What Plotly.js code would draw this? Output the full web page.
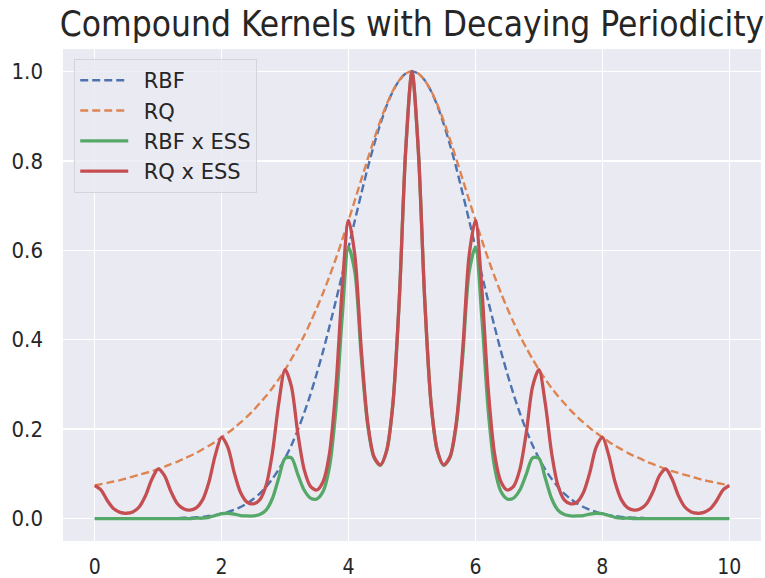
<!DOCTYPE html>
<html>
<head>
<meta charset="utf-8">
<script src="https://cdn.plot.ly/plotly-3.0.1.min.js"></script>
<style>html,body{margin:0;padding:0;background:#fff;}#chart{width:765px;height:578px;}</style>
</head>
<body>
<div id="chart"></div>
<script>
// x positions (0 to 10)
const xVals = [0,0.1,0.2,0.3,0.4,0.5,0.6,0.7,0.8,0.9,1,1.1,1.2,1.3,1.4,1.5,1.6,1.7,1.8,1.9,2,2.1,2.2,2.3,2.4,2.5,2.6,2.7,2.8,2.9,3,3.1,3.2,3.3,3.4,3.5,3.6,3.7,3.8,3.9,4,4.1,4.2,4.3,4.4,4.5,4.6,4.7,4.8,4.9,5,5.1,5.2,5.3,5.4,5.5,5.6,5.7,5.8,5.9,6,6.1,6.2,6.3,6.4,6.5,6.6,6.7,6.8,6.9,7,7.1,7.2,7.3,7.4,7.5,7.6,7.7,7.8,7.9,8,8.1,8.2,8.3,8.4,8.5,8.6,8.7,8.8,8.9,9,9.1,9.2,9.3,9.4,9.5,9.6,9.7,9.8,9.9,10];

const rbf = [0,0,0,0,0,0,0,0,0,0,0,0.001,0.001,0.001,0.002,0.002,0.003,0.004,0.006,0.008,0.011,0.015,0.020,0.026,0.034,0.044,0.056,0.071,0.089,0.110,0.135,0.164,0.198,0.236,0.278,0.325,0.375,0.430,0.487,0.546,0.607,0.667,0.726,0.783,0.835,0.882,0.923,0.956,0.980,0.995,1.000,
0.995,0.980,0.956,0.923,0.882,0.835,0.783,0.726,0.667,0.607,0.546,0.487,0.430,0.375,0.325,0.278,0.236,0.198,0.164,0.135,0.110,0.089,0.071,0.056,0.044,0.034,0.026,0.020,0.015,0.011,0.008,0.006,0.004,0.003,0.002,0.002,0.001,0.001,0.001,0,0,0,0,0,0,0,0,0,0,0];

const rq = [0.074,0.077,0.080,0.083,0.086,0.090,0.094,0.098,0.102,0.106,0.111,0.116,0.122,0.127,0.134,0.140,0.147,0.155,0.163,0.172,0.182,0.192,0.203,0.215,0.228,0.242,0.258,0.274,0.292,0.312,0.333,0.357,0.382,0.409,0.439,0.471,0.505,0.542,0.581,0.623,0.667,0.712,0.758,0.803,0.847,0.889,0.926,0.957,0.980,0.995,1.000,
0.995,0.980,0.957,0.926,0.889,0.847,0.803,0.758,0.712,0.667,0.623,0.581,0.542,0.505,0.471,0.439,0.409,0.382,0.357,0.333,0.312,0.292,0.274,0.258,0.242,0.228,0.215,0.203,0.192,0.182,0.172,0.163,0.155,0.147,0.140,0.134,0.127,0.122,0.116,0.111,0.106,0.102,0.098,0.094,0.090,0.086,0.083,0.080,0.077,0.074];

const rbfEss = [0,0,0,0,0,0,0,0,0,0,0,0,0,0,0,0,0.001,0.001,0.003,0.007,0.011,0.012,0.010,0.007,0.006,0.006,0.009,0.019,0.045,0.091,0.135,0.136,0.099,0.064,0.046,0.044,0.061,0.116,0.244,0.451,0.607,0.551,0.364,0.211,0.137,0.119,0.151,0.258,0.491,0.822,1.000,
0.822,0.491,0.258,0.151,0.119,0.137,0.211,0.364,0.551,0.607,0.451,0.244,0.116,0.061,0.044,0.046,0.064,0.099,0.136,0.135,0.091,0.045,0.019,0.009,0.006,0.006,0.007,0.010,0.012,0.011,0.007,0.003,0.001,0.001,0,0,0,0,0,0,0,0,0,0,0,0,0,0,0,0];

const rqEss = [0.074,0.064,0.040,0.022,0.014,0.012,0.015,0.026,0.051,0.088,0.111,0.096,0.061,0.034,0.022,0.019,0.024,0.042,0.082,0.142,0.182,0.159,0.102,0.058,0.037,0.033,0.042,0.074,0.147,0.258,0.333,0.295,0.191,0.110,0.072,0.064,0.083,0.146,0.291,0.515,0.667,0.588,0.380,0.217,0.139,0.120,0.152,0.258,0.491,0.822,1.000,
0.822,0.491,0.258,0.152,0.120,0.139,0.217,0.380,0.588,0.667,0.515,0.291,0.146,0.083,0.064,0.072,0.110,0.191,0.295,0.333,0.258,0.147,0.074,0.042,0.033,0.037,0.058,0.102,0.159,0.182,0.142,0.082,0.042,0.024,0.019,0.022,0.034,0.061,0.096,0.111,0.088,0.051,0.026,0.015,0.012,0.014,0.022,0.040,0.064,0.074];

const seriesNames = ["RBF", "RQ", "RBF x ESS", "RQ x ESS"];
const xTicks = [0, 2, 4, 6, 8, 10];
const yTicks = [0.0, 0.2, 0.4, 0.6, 0.8, 1.0];

const FONT = "DejaVu Sans, sans-serif";
const CFONT = "DejaVu Sans Condensed, DejaVu Sans, sans-serif";
const TXT = "#262626";
const GAP = "\u2002";

const traces = [
  {x: xVals, y: rbf, name: GAP + seriesNames[0], mode: "lines",
   line: {color: "#4C72B0", width: 2.4, dash: "8px,4px", shape: "spline", smoothing: 0.8}},
  {x: xVals, y: rq, name: GAP + seriesNames[1], mode: "lines",
   line: {color: "#DD8452", width: 2.4, dash: "8px,4px", shape: "spline", smoothing: 0.8}},
  {x: xVals, y: rbfEss, name: GAP + seriesNames[2], mode: "lines",
   line: {color: "#55A868", width: 3.3, shape: "spline", smoothing: 0.8}},
  {x: xVals, y: rqEss, name: GAP + seriesNames[3], mode: "lines",
   line: {color: "#C44E52", width: 3.3, shape: "spline", smoothing: 0.8}}
];

const layout = {
  width: 765, height: 578,
  margin: {l: 63, r: 4, t: 49, b: 37, pad: 0},
  paper_bgcolor: "#ffffff",
  plot_bgcolor: "#EAEAF2",
  font: {family: FONT, color: TXT, size: 19},
  title: {text: "Compound Kernels with Decaying Periodicity",
          font: {family: CFONT, size: 35, color: TXT},
          x: 0.5, xref: "paper", xanchor: "center",
          y: 1 - 24/578, yref: "container", yanchor: "middle"},
  xaxis: {range: [-0.5, 10.5], tickmode: "array", tickvals: xTicks,
          ticktext: xTicks.map(String),
          showgrid: true, gridcolor: "#ffffff", gridwidth: 1.5,
          zeroline: false, showline: false, ticks: "",
          ticklabelstandoff: 11,
          tickfont: {family: CFONT, size: 21, color: TXT}, automargin: false},
  yaxis: {range: [-0.05, 1.05], tickmode: "array", tickvals: yTicks,
          ticktext: yTicks.map(v => v.toFixed(1)),
          showgrid: true, gridcolor: "#ffffff", gridwidth: 1.5,
          zeroline: false, showline: false, ticks: "",
          ticklabelstandoff: 19,
          tickfont: {family: CFONT, size: 22, color: TXT}, automargin: false},
  showlegend: true,
  legend: {x: 0.0158, y: 0.98, xanchor: "left", yanchor: "top",
           bgcolor: "rgba(234,234,242,0.8)", bordercolor: "#d4d4dc", borderwidth: 1.2,
           font: {family: FONT, size: 21, color: TXT},
           itemwidth: 48, traceorder: "normal"}
};

Plotly.newPlot("chart", traces, layout, {displayModeBar: false, staticPlot: true});
</script>
</body>
</html>
